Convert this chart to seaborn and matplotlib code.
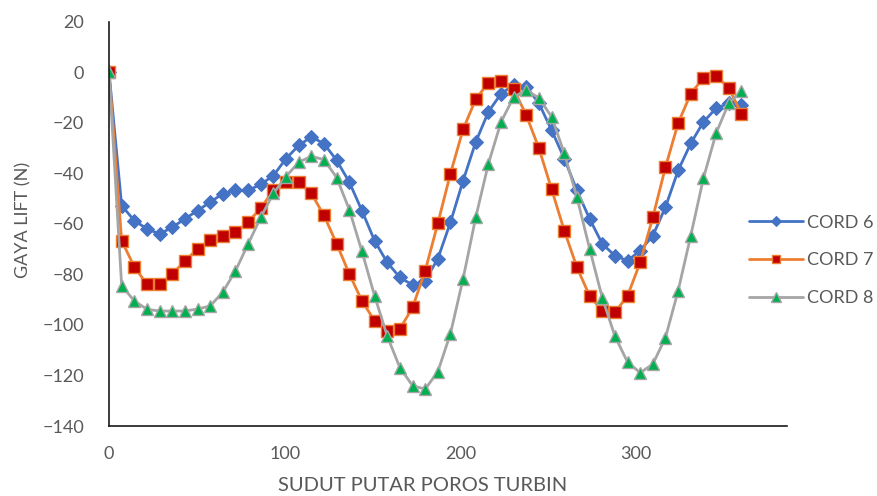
import pandas as pd
import seaborn as sns
import matplotlib.pyplot as plt

angles = [0, 7.2, 14.4, 21.6, 28.8, 36, 43.2, 50.4, 57.6, 64.8, 72, 79.2, 86.4,
          93.6, 100.8, 108, 115.2, 122.4, 129.6, 136.8, 144, 151.2, 158.4, 165.6,
          172.8, 180, 187.2, 194.4, 201.6, 208.8, 216, 223.2, 230.4, 237.6, 244.8,
          252, 259.2, 266.4, 273.6, 280.8, 288, 295.2, 302.4, 309.6, 316.8, 324,
          331.2, 338.4, 345.6, 352.8, 360]

cord6 = [0, -52.8, -58.7, -62, -64, -61.4, -58, -54.8, -51.4, -48.1, -46.8, -46.8,
         -44.4, -40.9, -34.2, -29, -25.6, -28.3, -34.9, -43.5, -54.8, -66.7, -75.3,
         -81.2, -84.2, -82.5, -73.8, -59.4, -42.9, -27.6, -15.7, -8.5, -5.2, -5.8,
         -12.4, -23, -34.2, -46.8, -58, -67.9, -72.6, -74.6, -70.6, -64.7, -53.4,
         -38.9, -28.2, -19.7, -14.3, -12.3, -13.1]

cord7 = [0, -66.7, -77, -83.9, -83.9, -79.9, -74.6, -70, -66.3, -64.7, -63.4, -59.4,
         -53.7, -46.8, -43.5, -43.5, -48, -56.7, -67.9, -79.8, -90.5, -98.4, -102.4,
         -101.6, -93.1, -78.6, -59.8, -40.1, -22.6, -10.7, -4.1, -3.4, -6.7, -17.1,
         -30.2, -46.4, -62.7, -77.2, -88.5, -94.4, -95, -88.5, -75.3, -57.4, -37.6,
         -20.2, -8.5, -2.3, -1.5, -6.2, -16.4]

cord8 = [0, -84.5, -90.5, -93.8, -94.5, -94.5, -94.5, -93.7, -92.5, -87, -78.6, -68,
         -57.4, -48, -41.3, -35.6, -33.3, -34.6, -41.7, -54.4, -70.9, -88.5, -104.4,
         -116.9, -124, -125.4, -118.5, -103.4, -81.7, -57.4, -36.2, -19.7, -9.8, -7.1,
         -10.3, -17.7, -32.1, -49.5, -69.8, -89.2, -104.4, -114.7, -118.9, -115.5,
         -105, -86.5, -64.7, -42, -24.2, -12.3, -7.5]

labels = ["CORD 6", "CORD 7", "CORD 8"]

sns.set_style("white")
plt.rcParams['font.family'] = ['Lato', 'DejaVu Sans']

fig = plt.figure(figsize=(8.77, 4.96), dpi=100)
ax = fig.add_axes([0.1243, 0.141, 0.7731, 0.8155])

styles = {
    "CORD 6": dict(color="#4472C4", marker="D", markersize=7.2,
                   markerfacecolor="#4472C4", markeredgecolor="#4472C4"),
    "CORD 7": dict(color="#ED7D31", marker="s", markersize=8.3,
                   markerfacecolor="#C00000", markeredgecolor="#ED7D31", markeredgewidth=1.0),
    "CORD 8": dict(color="#A5A5A5", marker="^", markersize=9.3,
                   markerfacecolor="#00B050", markeredgecolor="#A5A5A5", markeredgewidth=1.0),
}

for name, vals in zip(labels, [cord6, cord7, cord8]):
    df = pd.DataFrame({"angle": angles, "lift": vals})
    sns.lineplot(data=df, x="angle", y="lift", ax=ax, label=name, sort=False,
                 linewidth=2.0, **styles[name])

ax.set_xlim(0, 386)
ax.set_ylim(-140, 20)
ax.set_xticks([0, 100, 200, 300])
ax.set_yticks(range(-140, 21, 20))
ax.tick_params(axis='both', length=0, labelsize=13, colors="#595959")
ax.tick_params(axis='x', pad=14)
ax.tick_params(axis='y', pad=18)

for side in ["top", "right"]:
    ax.spines[side].set_visible(False)
for side in ["left", "bottom"]:
    ax.spines[side].set_color("#1a1a1a")
    ax.spines[side].set_linewidth(1.2)

ax.set_xlabel("SUDUT PUTAR POROS TURBIN", fontsize=14.5, color="#595959")
ax.xaxis.set_label_coords(0.463, -0.127)
ax.set_ylabel("GAYA LIFT (N)", fontsize=13, color="#595959")
ax.yaxis.set_label_coords(-0.114, 0.51)

ax.legend(loc="upper left", bbox_to_anchor=(0.835, 0.6), bbox_transform=fig.transFigure,
          frameon=False, fontsize=13, labelcolor="#595959", handlelength=3.0,
          handletextpad=0.25, labelspacing=1.2, markerscale=0.75)

fig.savefig("out.png", dpi=100)
